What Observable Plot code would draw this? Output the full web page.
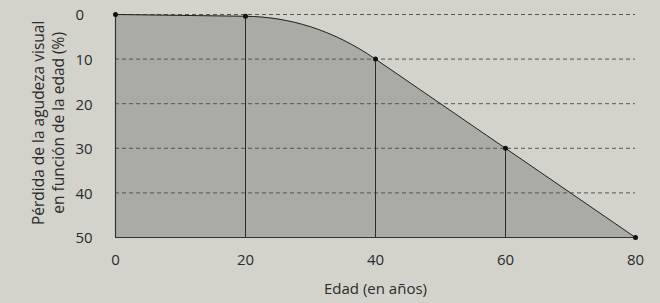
<!DOCTYPE html>
<html>
<head>
<meta charset="utf-8">
<script src="https://cdn.jsdelivr.net/npm/d3@7"></script>
<script src="https://cdn.jsdelivr.net/npm/@observablehq/plot@0.6"></script>
<style>
  html, body { margin: 0; padding: 0; background: #d4d3cb; }
  #chart svg { display: block; }
</style>
</head>
<body>
<div id="chart"></div>
<script>
const ages = [0, 20, 40, 60, 80];
const loss = [0, 0.4, 10, 30, 50];
const xTicks = [0, 20, 40, 60, 80];
const yTicks = [0, 10, 20, 30, 40, 50];
const gridTicks = [0, 10, 20, 30, 40];
const yLabel = "Pérdida de la agudeza visual\nen función de la edad (%)";
const xLabel = "Edad (en años)";

const data = ages.map((a, i) => ({age: a, loss: loss[i]}));
const inner = data.filter(d => d.age > 0 && d.age < 80);

// Curve: straight segments where a segment is an end segment or collinear with a neighbour;
// other segments are blended smoothly (Hermite) using the tangents of the neighbouring segments.
class BlendCurve {
  constructor(ctx) { this._context = ctx; }
  areaStart() { this._line = 0; }
  areaEnd() { this._line = NaN; }
  lineStart() { this._pts = []; }
  point(x, y) { this._pts.push([+x, +y]); }
  lineEnd() {
    const p = this._pts, n = p.length, c = this._context;
    if (n) {
      if (this._line) c.lineTo(p[0][0], p[0][1]); else c.moveTo(p[0][0], p[0][1]);
      const slope = i => (p[i + 1][1] - p[i][1]) / (p[i + 1][0] - p[i][0]);
      const eq = (a, b) => Math.abs(a - b) < 1e-6 * (1 + Math.abs(a) + Math.abs(b));
      const straight = i => i === 0 || i === n - 2 || eq(slope(i), slope(i - 1)) || eq(slope(i), slope(i + 1));
      for (let i = 0; i < n - 1; i++) {
        const [x0, y0] = p[i], [x1, y1] = p[i + 1];
        if (straight(i)) c.lineTo(x1, y1);
        else {
          const m0 = slope(i - 1), m1 = slope(i + 1), h = x1 - x0;
          c.bezierCurveTo(x0 + h / 3, y0 + m0 * h / 3, x1 - h / 3, y1 - m1 * h / 3, x1, y1);
        }
      }
    }
    if (this._line || (this._line !== 0 && n === 1)) c.closePath();
    this._line = 1 - this._line;
  }
}
const blendCurve = ctx => new BlendCurve(ctx);

const chart = Plot.plot({
  width: 660,
  height: 303,
  marginLeft: 115,
  marginRight: 25,
  marginTop: 14,
  marginBottom: 66,
  style: {background: "#d4d3cb", fontFamily: "'Open Sans', sans-serif", fontSize: "15px", color: "#2b2b2b"},
  x: {domain: [0, 80]},
  y: {domain: [0, 50], reverse: true},
  marks: [
    Plot.areaY(data, {x: "age", y1: 50, y2: "loss", curve: blendCurve, fill: "#aaaba4"}),
    Plot.ruleY(gridTicks, {x1: 0, x2: 80, stroke: "#555", strokeWidth: 1, strokeDasharray: "4,3"}),
    Plot.ruleX(inner, {x: "age", y1: "loss", y2: 50, stroke: "#2a2a2a", strokeWidth: 1}),
    Plot.ruleX([0], {y1: 0, y2: 50, stroke: "#333", strokeWidth: 1.2}),
    Plot.ruleY([50], {x1: 0, x2: 80, stroke: "#333", strokeWidth: 1.2}),
    Plot.line(data, {x: "age", y: "loss", curve: blendCurve, stroke: "#222", strokeWidth: 1}),
    Plot.dot(data, {x: "age", y: "loss", r: 2.5, fill: "#111", stroke: "none"}),
    Plot.axisX(xTicks, {tickSize: 0, tickPadding: 17, label: null, fill: "#2b2b2b", fontSize: 15}),
    Plot.axisY(yTicks, {tickSize: 0, tickPadding: 0, textAnchor: "start", dx: -40, dy: 1, label: null, fill: "#2b2b2b", fontSize: 15}),
    Plot.text([yLabel], {x: -10.5, y: 24.3, text: d => d, rotate: -90, lineHeight: 1.3, fontSize: 15.5, fill: "#2b2b2b"}),
    Plot.text([xLabel], {frameAnchor: "bottom", text: d => d, dy: 56, fontSize: 15, fill: "#2b2b2b"})
  ]
});
document.getElementById("chart").appendChild(chart);
</script>
</body>
</html>
